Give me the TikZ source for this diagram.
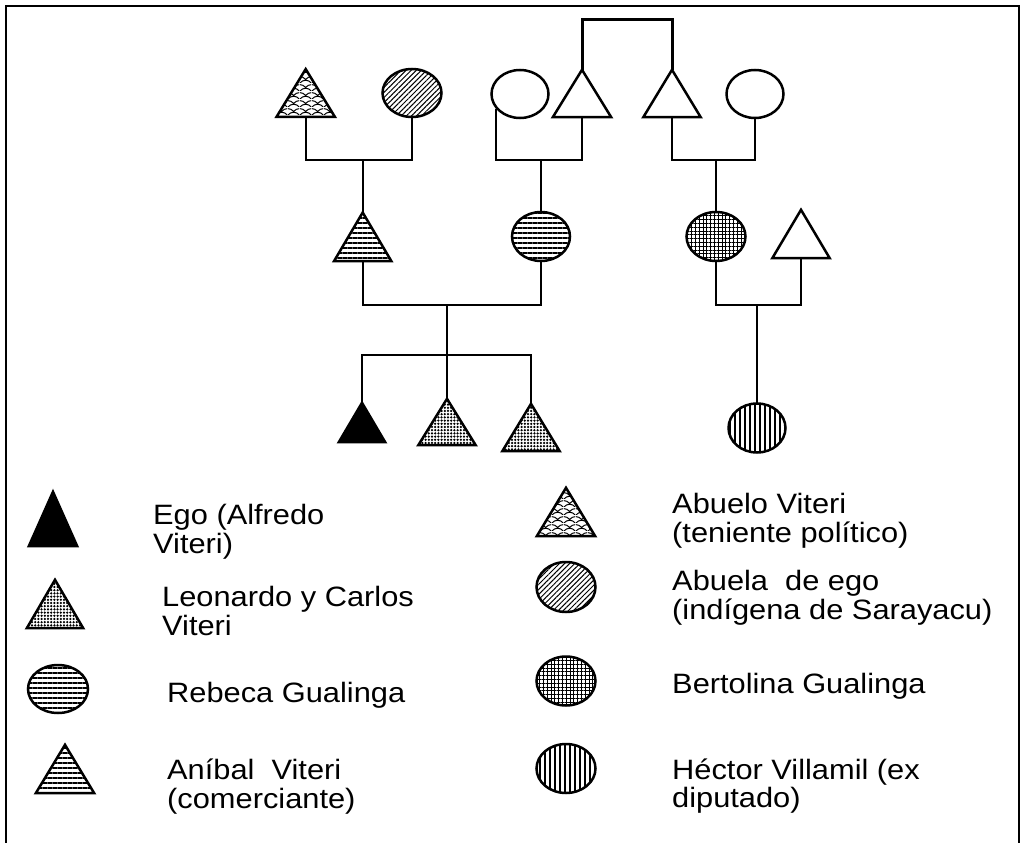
\documentclass[tikz,border=0pt]{standalone}
\usepackage{fontspec}
\setmainfont{Liberation Sans}
\usetikzlibrary{shapes.geometric,patterns,patterns.meta}
\pgfdeclarepatternformonly{myscales}{\pgfpoint{0pt}{0pt}}{\pgfpoint{12pt}{8pt}}{\pgfpoint{12pt}{8pt}}{%
 \pgfsetlinewidth{1.1pt}%
 \pgfpathmoveto{\pgfpoint{0pt}{0pt}}%
 \pgfpathcurveto{\pgfpoint{3pt}{4pt}}{\pgfpoint{9pt}{4pt}}{\pgfpoint{12pt}{0pt}}%
 \pgfpathmoveto{\pgfpoint{6pt}{4pt}}%
 \pgfpathcurveto{\pgfpoint{7.8pt}{6.2pt}}{\pgfpoint{10.2pt}{7pt}}{\pgfpoint{12pt}{7pt}}%
 \pgfpathmoveto{\pgfpoint{0pt}{7pt}}%
 \pgfpathcurveto{\pgfpoint{1.8pt}{7pt}}{\pgfpoint{4.2pt}{6.2pt}}{\pgfpoint{6pt}{4pt}}%
 \pgfusepath{stroke}%
}
\newcommand\kintri[6]{%
  \node[inner sep=0pt, minimum width=#5, minimum height={#4-#3}] (#1) at (#2,{(#3+#4)/2}) {};
  \path[#6] (#1.north) -- (#1.south east) -- (#1.south west) -- cycle;
  \draw[shp] (#1.north) -- (#1.south east) -- (#1.south west) -- cycle;
}
\begin{document}
\begin{tikzpicture}[x=1pt, y=-1pt,
  conn/.style={line width=2.4pt},
  shp/.style={line width=2.5pt, line join=miter},
  ell/.style={ellipse, draw, line width=2.5pt, inner sep=0pt, minimum width=59, minimum height=48},
  hlines/.style={pattern={Lines[angle=0,distance=5pt,line width=1.8pt]}},
  vlines/.style={pattern={Lines[angle=90,distance=5pt,line width=1.6pt]}},
  diag/.style={pattern={Lines[angle=45,distance=3.6pt,line width=1pt]}},
  grd/.style={pattern={Hatch[angle=0,distance=3.8pt,line width=1pt]}},
  dotty/.style={fill=white, postaction={pattern={Dots[radius=1.25pt,distance=3.2pt]}}},
  scales/.style={pattern=myscales},
  solid/.style={fill=black},
  empty/.style={fill=white},
  lbl/.style={anchor=base west, inner sep=0pt, font=\fontsize{28}{28}\selectfont}]
\useasboundingbox (0,0) rectangle (1028,843);
\fill[white] (0,0) rectangle (1028,843);
% frame
\draw[line width=1.5pt] (6,843) -- (6,6) -- (1019,6) -- (1019,843);

% level coordinates
\coordinate (b0) at (0,20);
\coordinate (b1) at (0,160);
\coordinate (b2) at (0,305);
\coordinate (b3) at (0,355);

% row 1
\kintri{W1}{305.7}{69.3}{116.7}{58}{scales}
\node[ell, diag] (E1) at (412,93) {};
\node[ell, minimum width=57] (O1) at (520,94) {};
\kintri{T1}{582}{70}{117}{58}{empty}
\kintri{T2}{672}{70}{117}{57}{empty}
\node[ell, minimum width=57] (O2) at (755,94) {};

% row 2
\kintri{A}{362.7}{212.7}{261}{57}{hlines}
\node[ell, hlines, minimum width=58, minimum height=49] (R) at (541,236.5) {};
\node[ell, grd, minimum width=59, minimum height=49] (B) at (716,236.5) {};
\kintri{T3}{801}{210}{258}{57}{empty}

% row 3
\kintri{Ego}{362}{403}{442}{46}{solid}
\kintri{Leo}{447}{399}{445}{57}{dotty}
\kintri{Car}{531}{404}{451}{57}{dotty}
\node[ell, vlines, minimum width=57, minimum height=49] (H) at (757,428) {};

% connectors
\draw[conn, line width=3pt] (T1.north) -- (T1.north |- b0) -- (T2.north |- b0) -- (T2.north);
\draw[conn] (W1.south) -- (W1.south |- b1) -- (E1.south |- b1) -- (E1.south);
\draw[conn] (A.north) -- (A.north |- b1);
\draw[conn] (O1.211) -- (O1.211 |- b1) -- (T1.south |- b1) -- (T1.south);
\draw[conn] (R.north) -- (R.north |- b1);
\draw[conn] (T2.south) -- (T2.south |- b1) -- (O2.south |- b1) -- (O2.south);
\draw[conn] (B.north) -- (B.north |- b1);
\draw[conn] (A.south) -- (A.south |- b2) -- (R.south |- b2) -- (R.south);
\draw[conn] (Leo.north) -- (Leo.north |- b2);
\draw[conn] (Ego.north) -- (Ego.north |- b3) -- (Car.north |- b3) -- (Car.north);
\draw[conn] (B.south) -- (B.south |- b2) -- (T3.south |- b2) -- (T3.south);
\draw[conn] (H.north) -- (H.north |- b2);

% legend symbols
\kintri{LEgo}{53}{492}{546}{48}{solid}
\kintri{LLeo}{55}{580}{628}{56}{dotty}
\node[ell, hlines, minimum width=60, minimum height=48] (LR) at (58,689) {};
\kintri{LA}{65}{745}{793}{58}{hlines}
\kintri{LW}{566}{488}{536}{58}{scales}
\node[ell, diag, minimum width=59, minimum height=50] (LE) at (566,587) {};
\node[ell, grd, minimum width=59, minimum height=49] (LB) at (566,681) {};
\node[ell, vlines, minimum width=59, minimum height=49] (LH) at (566,768.5) {};

% legend texts
\node[lbl] (t1a) at (153,524) {\scalebox{1.1}[1]{Ego (Alfredo}};
\node[lbl] (t1b) at (153,553) {\scalebox{1.1}[1]{Viteri)}};
\node[lbl] (t2a) at (162,606) {\scalebox{1.1}[1]{Leonardo y Carlos}};
\node[lbl] (t2b) at (162,635) {\scalebox{1.1}[1]{Viteri}};
\node[lbl] (t3a) at (167,702) {\scalebox{1.1}[1]{Rebeca Gualinga}};
\node[lbl] (t4a) at (167,779) {\scalebox{1.1}[1]{Aníbal~ Viteri}};
\node[lbl] (t4b) at (167,808) {\scalebox{1.1}[1]{(comerciante)}};
\node[lbl] (t5a) at (672,513) {\scalebox{1.1}[1]{Abuelo Viteri}};
\node[lbl] (t5b) at (672,542) {\scalebox{1.1}[1]{(teniente político)}};
\node[lbl] (t6a) at (672,590) {\scalebox{1.1}[1]{Abuela~ de ego}};
\node[lbl] (t6b) at (672,619) {\scalebox{1.1}[1]{(indígena de Sarayacu)}};
\node[lbl] (t7a) at (672,693) {\scalebox{1.1}[1]{Bertolina Gualinga}};
\node[lbl] (t8a) at (672,779) {\scalebox{1.1}[1]{Héctor Villamil (ex}};
\node[lbl] (t8b) at (672,807) {\scalebox{1.1}[1]{diputado)}};
\end{tikzpicture}
\end{document}
